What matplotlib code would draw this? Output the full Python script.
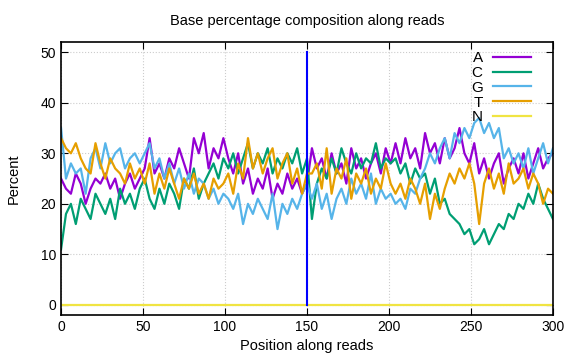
import numpy as np
import matplotlib
matplotlib.use('Agg')
import matplotlib.pyplot as plt

plt.rcParams['font.family'] = ['Liberation Sans', 'DejaVu Sans']

# positions sampled every 3 bases
positions = list(range(0, 301, 3))

pct_A = [25, 23, 22, 26, 24, 20, 23, 25, 24, 26, 23, 25, 21, 24, 26, 23, 25,
         27, 33, 26, 28, 25, 29, 27, 31, 28, 25, 33, 30, 34, 27, 31, 29, 33,
         29, 26, 30, 24, 27, 22, 25, 23, 27, 21, 24, 22, 26, 23, 25, 22, 24,
         31, 27, 29, 25, 30, 26, 28, 24, 31, 27, 29, 25, 28, 30, 26, 31, 28,
         32, 28, 33, 29, 31, 27, 34, 30, 32, 28, 33, 29, 31, 35, 30, 28, 32,
         26, 29, 25, 28, 30, 24, 27, 29, 26, 30, 25, 28, 31, 27, 29, 30]
pct_C = [11, 18, 20, 16, 21, 19, 17, 22, 20, 18, 21, 17, 23, 20, 22, 19, 23,
         25, 21, 19, 23, 20, 24, 22, 19, 25, 23, 27, 21, 24, 26, 28, 25, 29,
         27, 30, 26, 29, 32, 27, 30, 28, 31, 26, 29, 27, 30, 28, 31, 26, 29,
         17, 24, 27, 25, 29, 26, 31, 28, 26, 30, 27, 29, 28, 32, 27, 29, 28,
         29, 26, 28, 24, 27, 25, 26, 22, 25, 20, 21, 18, 17, 16, 14, 15, 12,
         13, 15, 12, 14, 16, 15, 18, 17, 20, 19, 22, 20, 24, 21, 19, 17]
pct_G = [35, 25, 28, 26, 27, 22, 29, 31, 27, 32, 28, 30, 31, 27, 29, 30, 28,
         30, 32, 27, 29, 25, 28, 24, 27, 23, 26, 22, 25, 24, 21, 23, 20, 22,
         21, 19, 22, 16, 20, 18, 21, 19, 17, 22, 15, 20, 18, 21, 19, 22, 24,
         21, 24, 19, 22, 17, 21, 23, 20, 25, 22, 24, 21, 26, 20, 23, 21, 22,
         20, 21, 19, 23, 22, 25, 27, 30, 28, 31, 33, 29, 34, 32, 35, 33, 36,
         37, 34, 36, 33, 35, 29, 31, 28, 30, 27, 31, 26, 29, 32, 28, 31]
pct_T = [33, 31, 30, 32, 29, 27, 26, 32, 28, 25, 29, 27, 26, 24, 28, 25, 27,
         24, 28, 22, 26, 23, 27, 24, 21, 25, 23, 26, 22, 24, 21, 25, 23, 24,
         26, 22, 28, 25, 33, 27, 30, 26, 29, 31, 25, 28, 30, 24, 27, 22, 26,
         26, 28, 23, 31, 22, 27, 25, 29, 21, 26, 24, 27, 22, 25, 23, 28, 24,
         22, 24, 21, 25, 23, 20, 24, 17, 22, 19, 23, 26, 24, 27, 25, 28, 24,
         16, 24, 27, 23, 26, 22, 28, 24, 25, 27, 23, 26, 24, 20, 23, 22]
pct_N = [0] * len(positions)

bases = ['A', 'C', 'G', 'T', 'N']
colors = ['#9400d3', '#009e73', '#56b4e9', '#e69f00', '#f0e442']
series = [pct_A, pct_C, pct_G, pct_T, pct_N]

fig = plt.figure(figsize=(5.76, 3.6), dpi=100)
ax = fig.add_axes([0.106, 0.125, 0.854, 0.758])

for b, c, s in zip(bases, colors, series):
    ax.plot(positions, s, color=c, lw=1.6, label=b)

# read split marker
ax.plot([150, 150], [0, 50], color='#0000ff', lw=1.5)

ax.set_xlim(0, 300)
ax.set_ylim(-2, 52)
ax.set_xticks(range(0, 301, 50))
ax.set_yticks(range(0, 51, 10))
ax.tick_params(direction='in', top=True, right=True, labelsize=10, length=5)
ax.grid(True, color='#cccccc', linestyle=':', lw=0.8)
for sp in ax.spines.values():
    sp.set_linewidth(1.2)

ax.set_xlabel('Position along reads', fontsize=10.5)
ax.set_ylabel('Percent', fontsize=10.5, labelpad=14)
ax.set_title('Base percentage composition along reads', fontsize=10.5, pad=12)

leg = ax.legend(loc='upper right', bbox_to_anchor=(0.975, 1.0), frameon=False,
                markerfirst=False, handlelength=2.5, labelspacing=0.05,
                fontsize=11, handletextpad=0.7, borderaxespad=0.2)

fig.savefig('out.png', dpi=100)
